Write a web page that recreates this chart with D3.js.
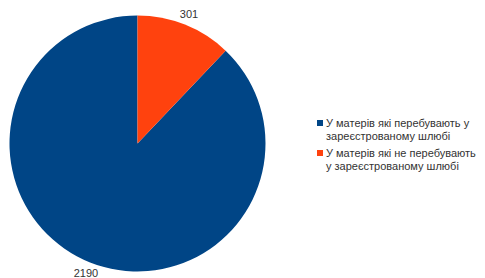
<!DOCTYPE html>
<html>
<head>
<meta charset="utf-8">
<script src="https://cdn.jsdelivr.net/npm/d3@7"></script>
<style>
  body { margin: 0; background: #fff; }
  svg { display: block; font-family: "Liberation Sans", Arial, sans-serif; }
</style>
</head>
<body>
<svg id="svg1" width="485" height="278"></svg>
<script>
// data
const categories = [
  ["У матерів які перебувають у", "зареєстрованому шлюбі"],
  ["У матерів які не перебувають", "у зареєстрованому шлюбі"]
];
const values = [2190, 301];
const colors = ["#004586", "#ff420e"];

const svg = d3.select("#svg1"),
      cx = 137.5, cy = 143.5, r = 128;

const total = d3.sum(values);
const start = 2 * Math.PI * values[1] / total;

const pie = d3.pie().sort(null).startAngle(start).endAngle(start + 2 * Math.PI);
const arc = d3.arc().innerRadius(0).outerRadius(r);
const arcs = pie(values);

const g = svg.append("g").attr("transform", `translate(${cx},${cy})`);

g.selectAll(".slice")
  .data(arcs)
  .enter().append("path")
    .attr("class", "slice")
    .attr("d", arc)
    .attr("fill", (d, i) => colors[i]);

// value labels outside the slices
g.selectAll(".lbl")
  .data(arcs)
  .enter().append("text")
    .attr("class", "lbl")
    .attr("x", d => Math.sin((d.startAngle + d.endAngle) / 2) * (r + 11))
    .attr("y", d => -Math.cos((d.startAngle + d.endAngle) / 2) * (r + 11) + 4)
    .attr("text-anchor", "middle")
    .style("font-size", "11px")
    .attr("fill", "#333")
    .text(d => d.data);

// legend
const leg = svg.append("g").attr("transform", "translate(317,120)");
categories.forEach((c, i) => {
  const row = leg.append("g").attr("transform", `translate(0,${i * 30})`);
  row.append("rect")
    .attr("width", 6).attr("height", 6)
    .attr("fill", colors[i]);
  const t = row.append("text")
    .attr("x", 9).attr("y", 7)
    .style("font-size", "11px")
    .attr("fill", "#333");
  c.forEach((line, j) => {
    t.append("tspan").attr("x", 9).attr("dy", j ? 12.5 : 0).text(line);
  });
});
</script>
</body>
</html>
